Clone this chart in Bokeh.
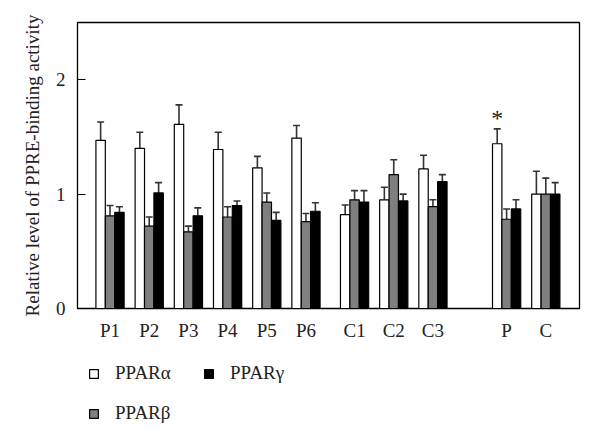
import numpy as np
from bokeh.plotting import figure
from bokeh.layouts import column
from bokeh.models import (ColumnDataSource, FixedTicker, Whisker, TeeHead, Legend,
                          LegendItem, Range1d)
from bokeh.core.properties import value
from bokeh.embed import file_html
from bokeh.resources import INLINE

groups = ["P1", "P2", "P3", "P4", "P5", "P6", "C1", "C2", "C3", "P", "C"]
series = ["PPARα", "PPARβ", "PPARγ"]
alpha = [1.47, 1.40, 1.61, 1.39, 1.23, 1.49, 0.82, 0.95, 1.22, 1.44, 1.00]
alpha_err = [0.16, 0.14, 0.17, 0.15, 0.10, 0.11, 0.085, 0.11, 0.12, 0.13, 0.20]
beta = [0.81, 0.72, 0.67, 0.80, 0.93, 0.76, 0.95, 1.17, 0.89, 0.78, 1.00]
beta_err = [0.09, 0.08, 0.05, 0.09, 0.08, 0.07, 0.08, 0.13, 0.06, 0.09, 0.14]
gamma = [0.84, 1.01, 0.81, 0.90, 0.77, 0.85, 0.93, 0.94, 1.11, 0.87, 1.00]
gamma_err = [0.05, 0.09, 0.07, 0.04, 0.07, 0.075, 0.10, 0.06, 0.06, 0.08, 0.10]
y_ticks = [0, 1, 2]
star_group = "P"

# layout: extra gaps between sections
extra_gap = [0, 0, 0, 0, 0, 0, 0.24, 0, 0, 0.88, 0]
xpos = np.arange(len(groups)) + np.cumsum(extra_gap)

FONT = "Liberation Serif"
W = 0.24
colors = ["white", "#7f7f7f", "black"]
vals = [alpha, beta, gamma]
errs = [alpha_err, beta_err, gamma_err]
offsets = [-W, 0, W]

p = figure(width=592, height=345, output_backend="svg", toolbar_location=None,
           x_range=Range1d(-0.83, 11.98), y_range=Range1d(0, 2.5),
           min_border_left=77, min_border_right=13, min_border_top=22,
           min_border_bottom=37)
p.outline_line_color = "black"
p.outline_line_width = 1.3
p.grid.visible = False
p.background_fill_color = "white"
p.border_fill_color = "white"

for v, e, c, off in zip(vals, errs, colors, offsets):
    x = xpos + off
    src = ColumnDataSource(dict(x=x, top=v, upper=np.array(v) + np.array(e)))
    wk = Whisker(source=src, base="x", lower="top", upper="upper",
                 line_color="#333333", line_width=1.6,
                 upper_head=TeeHead(size=7, line_color="#333333", line_width=1.6),
                 lower_head=None)
    p.add_layout(wk)
    p.vbar(x="x", top="top", width=W, source=src, fill_color=c,
           line_color="black", line_width=1.2)

# significance star
si = groups.index(star_group)
p.text(x=[xpos[si] + offsets[0]], y=[alpha[si] + alpha_err[si] - 0.015], text=["*"],
       text_font=value(FONT), text_font_size="24px", text_align="center",
       text_baseline="bottom", text_color="#222222")

# axes
p.xaxis.ticker = FixedTicker(ticks=list(xpos))
p.xaxis.major_label_overrides = {float(x): g for x, g in zip(xpos, groups)}
p.xaxis.major_tick_line_color = None
p.xaxis.minor_tick_line_color = None
p.xaxis.major_label_standoff = 5
p.xaxis.axis_line_color = "black"

p.yaxis.ticker = FixedTicker(ticks=y_ticks)
p.yaxis.major_tick_in = 8
p.yaxis.major_tick_out = 0
p.yaxis.minor_tick_line_color = None
p.yaxis.major_label_standoff = 12
p.yaxis.axis_label = "Relative level of PPRE-binding activity"
p.yaxis.axis_label_standoff = 10

for ax in (p.xaxis[0], p.yaxis[0]):
    ax.major_label_text_font = FONT
    ax.major_label_text_font_size = "19px"
    ax.major_label_text_color = "#222222"
    ax.axis_label_text_font = FONT
    ax.axis_label_text_font_size = "19px"
    ax.axis_label_text_font_style = "normal"
    ax.axis_label_text_color = "#222222"

# legend panel
lg = figure(width=592, height=90, output_backend="svg", toolbar_location=None,
            x_range=Range1d(0, 1), y_range=Range1d(0, 1),
            min_border=0, min_border_left=0, min_border_right=0,
            min_border_top=0, min_border_bottom=0)
lg.axis.visible = False
lg.grid.visible = False
lg.outline_line_color = None
lg.border_fill_color = "white"
dummy = []
for c in colors:
    dummy.append(lg.vbar(x=[np.nan], top=[np.nan], width=0.1, fill_color=c,
                         line_color="black", line_width=1.2))
items = [LegendItem(label=series[0], renderers=[dummy[0]]),
         LegendItem(label=series[2], renderers=[dummy[2]]),
         LegendItem(label=series[1], renderers=[dummy[1]])]
legend = Legend(items=items, location=(11, 11), orientation="horizontal", ncols=2,
                glyph_width=11, glyph_height=11, label_standoff=16, label_width=70,
                label_height=20, spacing=18, padding=0, margin=0,
                border_line_color=None, background_fill_alpha=0,
                label_text_font=FONT, label_text_font_size="19px",
                label_text_color="#222222")
lg.add_layout(legend, "center")

open("out.html", "w").write(file_html(column(p, lg, spacing=0), INLINE))
